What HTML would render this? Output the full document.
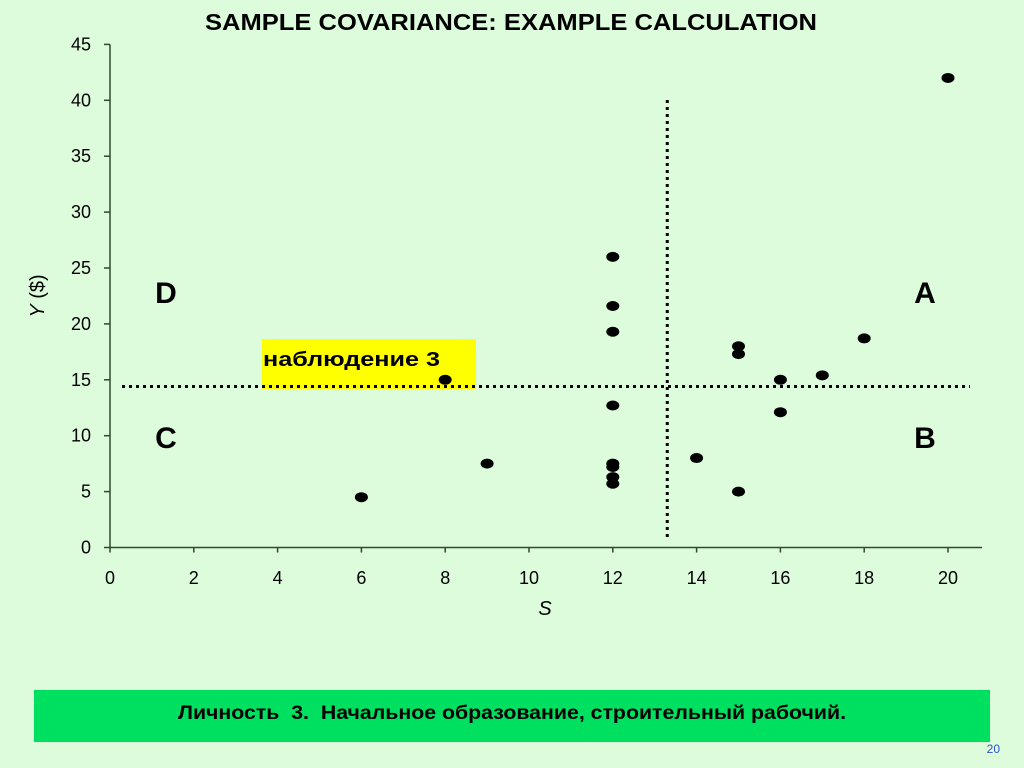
<!DOCTYPE html>
<html><head><meta charset="utf-8"><style>
body{margin:0;width:1024px;height:768px;background:#dcfcdc;overflow:hidden;font-family:"Liberation Sans","Noto Sans CJK SC",sans-serif}
svg{position:absolute;left:0;top:0}
</style></head><body>
<svg width="1024" height="768">
<text x="205" y="30" textLength="612" lengthAdjust="spacingAndGlyphs" font-size="23" font-weight="bold" fill="#000">SAMPLE COVARIANCE: EXAMPLE CALCULATION</text>
<g id="axes"></g>
<g id="marks"></g>
<rect x="262" y="339" width="214" height="50" fill="#ffff00"/>
<text x="263" y="366" textLength="177" lengthAdjust="spacingAndGlyphs" font-size="20" font-weight="bold">наблюдение 3</text>
<g id="guides"></g>
<g id="points"></g>
<text x="166" y="303" text-anchor="middle" font-size="30" font-weight="bold">D</text>
<text x="925" y="303" text-anchor="middle" font-size="30" font-weight="bold">A</text>
<text x="166" y="448" text-anchor="middle" font-size="30" font-weight="bold">C</text>
<text x="925" y="448" text-anchor="middle" font-size="30" font-weight="bold">B</text>
<text x="545" y="615" text-anchor="middle" font-size="20" font-style="italic">S</text>
<text transform="translate(44,296) rotate(-90)" text-anchor="middle" font-size="20"><tspan font-style="italic">Y</tspan> ($)</text>
<rect x="34" y="690" width="956" height="52" fill="#00e060"/>
<text x="178" y="719" textLength="668" lengthAdjust="spacingAndGlyphs" font-size="19" font-weight="bold" xml:space="preserve">Личность  3.  Начальное образование, строительный рабочий.</text>
<text x="1000" y="753" text-anchor="end" font-size="12" fill="#3050d0">20</text>
</svg>
<script>
const xTicks=[0,2,4,6,8,10,12,14,16,18,20];
const yTicks=[0,5,10,15,20,25,30,35,40,45];
const sValues=[6,8,9,12,12,12,12,12,12,12,12,14,15,15,15,16,16,17,18,20];
const yValues=[4.5,15,7.5,26,21.6,19.3,12.7,7.5,7.2,6.3,5.7,8,18,17.3,5,15,12.1,15.4,18.7,42];
const meanS=13.3;
const meanY=14.4;
const NS="http://www.w3.org/2000/svg";
const X=v=>110+v*41.9;
const Y=v=>547.5-v*11.18;
function mk(p,t,a){const e=document.createElementNS(NS,t);for(const k in a)e.setAttribute(k,a[k]);document.getElementById(p).appendChild(e);return e;}
let e;
e=mk('axes','line',{x1:110,y1:Y(0),x2:982,y2:Y(0),stroke:'#304830','stroke-width':1.5});


e=mk('axes','line',{x1:110,y1:Y(0),x2:110,y2:Y(45),stroke:'#304830','stroke-width':1.5});


xTicks.forEach(t=>{
 mk('axes','line',{x1:X(t),x2:X(t),y1:Y(0),y2:Y(0)+5,stroke:'#304830','stroke-width':1.5});
 e=mk('axes','text',{x:X(t),y:584,'text-anchor':'middle','font-size':18});
 e.textContent=t;
 
 
});
yTicks.forEach(t=>{
 mk('axes','line',{x1:104,x2:110,y1:Y(t),y2:Y(t),stroke:'#304830','stroke-width':1.5});
 e=mk('axes','text',{x:91,y:Y(t)+6,'text-anchor':'end','font-size':18});
 e.textContent=t;
 
 
});
e=mk('guides','line',{x1:122,x2:970,y1:Y(meanY),y2:Y(meanY),stroke:'#000','stroke-width':3,'stroke-dasharray':'3 4'});


e=mk('guides','line',{x1:X(meanS),x2:X(meanS),y1:100,y2:538,stroke:'#000','stroke-width':3,'stroke-dasharray':'3 4'});


sValues.forEach((s,i)=>{
 e=mk('points','ellipse',{cx:X(s),cy:Y(yValues[i]),rx:6.5,ry:5,fill:'#000'});
 
 
});
</script>
</body></html>
